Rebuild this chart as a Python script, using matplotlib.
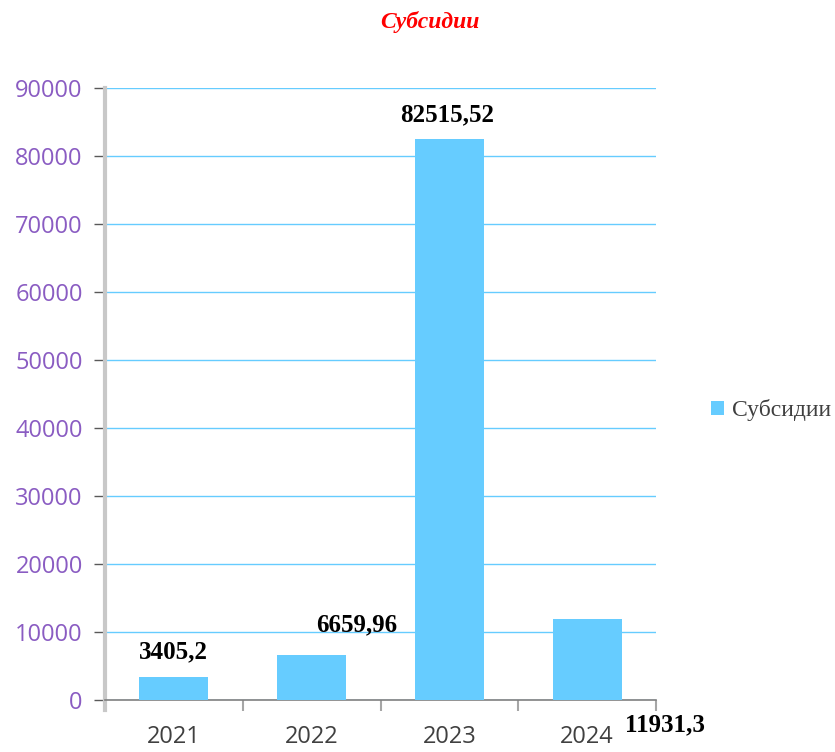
import matplotlib.pyplot as plt

# Chart data
years = ['2021', '2022', '2023', '2024']
values = [3405.2, 6659.96, 82515.52, 11931.3]
value_labels = ['3405,2', '6659,96', '82515,52', '11931,3']
# label offsets from bar top (pixels), as placed in the original
label_dx = [0, 45, -2, 78]
label_dy = [25, 30, 24, -106]
y_ticks = [0, 10000, 20000, 30000, 40000, 50000, 60000, 70000, 80000, 90000]

bar_color = '#66ccff'

fig = plt.figure(figsize=(8.35, 7.52), dpi=100)
ax = fig.add_axes([105 / 835, 1 - 700 / 752, (656 - 105) / 835, (700 - 88) / 752])

x = list(range(len(years)))
ax.bar(x, values, width=0.5, color=bar_color, zorder=3, label='Субсидии')

ax.set_xlim(-0.5, len(years) - 0.5)
ax.set_ylim(0, 90000)
ax.set_yticks(y_ticks)
ax.set_yticklabels([str(v) for v in y_ticks], color='#8a5cc2',
                   fontsize=17, family='Open Sans')
ax.yaxis.grid(True, color='#66ccff', linewidth=1, zorder=0)

# category ticks between groups
ax.set_xticks([i - 0.5 for i in range(len(years) + 1)], minor=False)
ax.set_xticklabels([])
ax.tick_params(axis='x', length=8, width=1.5, color='#a6a6a6', direction='out')
ax.tick_params(axis='y', length=8, width=1, color='#595959', pad=8)
for i, yr in enumerate(years):
    ax.text(i, -0.06, yr, transform=ax.get_xaxis_transform(), ha='center',
            va='center', fontsize=17, color='#404040', family='Open Sans')

for side in ['top', 'right']:
    ax.spines[side].set_visible(False)
ax.spines['left'].set_color('#c8c8c8')
ax.spines['left'].set_linewidth(3)
ax.spines['left'].set_bounds(-1500, 90000)
ax.spines['bottom'].set_color('#808080')
ax.spines['bottom'].set_linewidth(1.2)

for i, v in enumerate(values):
    ax.annotate(value_labels[i], (i, v), xytext=(label_dx[i], label_dy[i]),
                textcoords='offset pixels', ha='center', va='center',
                fontsize=18, fontweight='bold', family='Liberation Serif',
                color='black', annotation_clip=False)

fig.text(430 / 835, 1 - 22 / 752, 'Субсидии', ha='center', va='center',
         color='red', fontsize=17, fontweight='bold', style='italic',
         family='Liberation Serif')

leg = fig.legend(loc='center left', bbox_to_anchor=(711 / 835, 1 - 410 / 752),
                 frameon=False, handlelength=0.55, handleheight=0.55,
                 handletextpad=0.35, borderpad=0, borderaxespad=0,
                 prop={'family': 'Liberation Serif', 'size': 17})
for t in leg.get_texts():
    t.set_color('#404040')

plt.savefig('out.png', dpi=100)
